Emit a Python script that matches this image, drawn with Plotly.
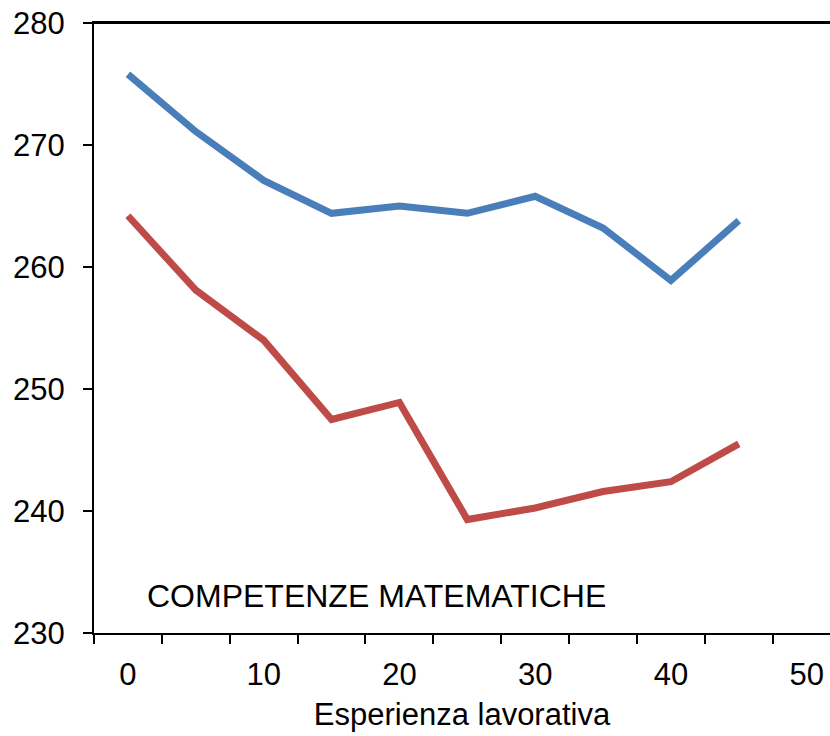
import plotly.graph_objects as go

# Data
experience = [0, 5, 10, 15, 20, 25, 30, 35, 40, 45]
series_blue = [275.8, 271.1, 267.1, 264.4, 265.0, 264.4, 265.8, 263.2, 258.9, 263.8]
series_red = [264.2, 258.1, 254.0, 247.5, 248.9, 239.3, 240.25, 241.6, 242.4, 245.5]
x_tick_vals = [0, 10, 20, 30, 40, 50]
x_tick_text = ["0", "10", "20", "30", "40", "50"]
y_tick_vals = [230, 240, 250, 260, 270, 280]

FONT = "Liberation Sans, Arial, sans-serif"
X_RANGE = [-2.5, 51.72]

fig = go.Figure()
fig.add_trace(go.Scatter(x=experience, y=series_blue, mode="lines", name="Serie 1",
                         line=dict(color="#4A7EBB", width=7)))
fig.add_trace(go.Scatter(x=experience, y=series_red, mode="lines", name="Serie 2",
                         line=dict(color="#BE4B48", width=7)))

fig.add_annotation(text="COMPETENZE MATEMATICHE", x=1.25, y=233.07, xref="x", yref="y",
                   xanchor="left", yanchor="middle", showarrow=False,
                   font=dict(family=FONT, size=32, color="black"))

# top border of the plot area
fig.add_shape(type="line", xref="paper", yref="paper", x0=0, x1=1, y0=1, y1=1,
              line=dict(color="black", width=2), layer="above")

fig.update_layout(
    width=830, height=736,
    margin=dict(l=94, r=0, t=23, b=103, autoexpand=False),
    plot_bgcolor="white", paper_bgcolor="white",
    showlegend=False,
    font=dict(family=FONT, size=31, color="black"),
    xaxis=dict(
        range=X_RANGE, automargin=False,
        tickmode="array", tickvals=x_tick_vals, ticktext=x_tick_text,
        ticks="outside", ticklen=13, tickcolor="rgba(0,0,0,0)",
        showgrid=False, zeroline=False,
        showline=True, linecolor="black", linewidth=2, mirror=True,
        minor=dict(tick0=-2.5, dtick=5, ticks="outside", ticklen=9,
                   tickwidth=2, tickcolor="black", showgrid=False),
        title=dict(text="Esperienza lavorativa", font=dict(size=31), standoff=12),
        tickfont=dict(size=31),
    ),
    yaxis=dict(
        range=[230, 280], automargin=False,
        tickmode="array", tickvals=y_tick_vals,
        ticks="outside", ticklen=9, tickwidth=2, tickcolor="black",
        showgrid=False, zeroline=False,
        showline=True, linecolor="black", linewidth=2,
        tickfont=dict(size=31),
        ticklabelstandoff=12,
        ticklabeloverflow="allow",
    ),
)

fig.write_html("out.html", config={"displayModeBar": False},
               post_script="document.body.style.margin='0';")
